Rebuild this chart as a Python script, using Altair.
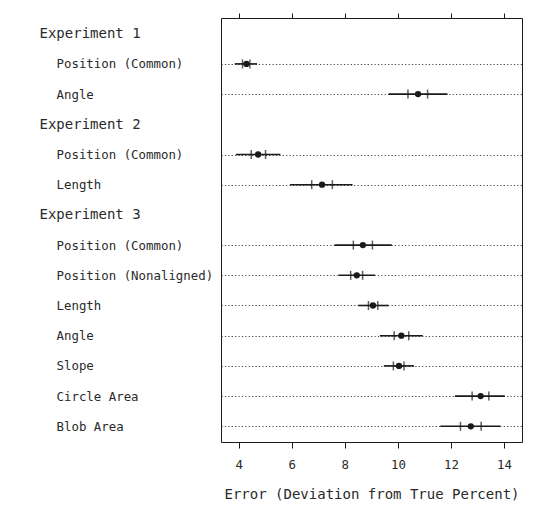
import altair as alt
import pandas as pd

row_labels = ["Experiment 1", "Position (Common)", "Angle",
              "Experiment 2", "Position (Common)", "Length",
              "Experiment 3", "Position (Common)", "Position (Nonaligned)", "Length",
              "Angle", "Slope", "Circle Area", "Blob Area"]
is_header = [True, False, False, True, False, False, True,
             False, False, False, False, False, False, False]

mid = [4.29, 10.76, 4.73, 7.14, 8.68, 8.45, 9.06, 10.13, 10.04, 13.12, 12.75]
lo = [3.85, 9.65, 3.89, 5.93, 7.61, 7.76, 8.51, 9.32, 9.47, 12.15, 11.60]
hi = [4.69, 11.87, 5.57, 8.29, 9.77, 9.14, 9.65, 10.94, 10.61, 14.03, 13.87]
q_lo = [4.14, 10.38, 4.47, 6.75, 8.32, 8.22, 8.89, 9.86, 9.83, 12.80, 12.36]
q_hi = [4.42, 11.12, 5.01, 7.53, 9.04, 8.67, 9.24, 10.41, 10.23, 13.43, 13.14]

x_ticks = [4, 6, 8, 10, 12, 14]

keys = [f"{i:02d}|{lab}" for i, lab in enumerate(row_labels)]
item_keys = [k for k, h in zip(keys, is_header) if not h]
header_keys = [k for k, h in zip(keys, is_header) if h]
df = pd.DataFrame({"key": item_keys, "mid": mid, "lo": lo, "hi": hi,
                   "q_lo": q_lo, "q_hi": q_hi})

FONT = "DejaVu Sans Mono"
INK = "#1a1a1a"
TEXT = "#2a2a2a"

x_scale = alt.Scale(domain=[3.33, 14.68], nice=False, zero=False)
y_scale = alt.Scale(domain=keys, type="point", padding=0.52)

header_test = " || ".join(f"datum.value == '{k}'" for k in header_keys)

y_axis = alt.Axis(
    title=None,
    labelExpr="split(datum.label, '|')[1]",
    labelAlign="left",
    labelBaseline="middle",
    labelPadding={"condition": {"test": header_test, "value": 182}, "value": 165},
    labelFontSize={"condition": {"test": header_test, "value": 14}, "value": 12.4},
    labelFont=FONT,
    labelColor=TEXT,
    labelLimit=300,
    ticks=False,
    domain=False,
    grid=True,
    gridDash=[1.2, 2.2],
    gridColor="#444444",
    gridWidth=1,
    gridOpacity={"condition": {"test": header_test, "value": 0}, "value": 1},
)

bottom_axis = alt.Axis(
    values=x_ticks,
    title="Error (Deviation from True Percent)",
    domain=False,
    grid=False,
    tickSize=6,
    tickColor=INK,
    labelFont=FONT,
    labelFontSize=12.4,
    labelColor=TEXT,
    labelPadding=10,
    titleFont=FONT,
    titleFontSize=14,
    titleFontWeight="normal",
    titleColor=TEXT,
    titlePadding=17,
)

top_axis = alt.Axis(
    orient="top",
    values=x_ticks,
    title=None,
    labels=False,
    domain=False,
    grid=False,
    tickSize=5,
    tickColor=INK,
)

base = alt.Chart(df)

rule = base.mark_rule(strokeWidth=1.6, color=INK).encode(
    x=alt.X("lo:Q", scale=x_scale, axis=bottom_axis),
    x2="hi:Q",
    y=alt.Y("key:N", scale=y_scale, axis=y_axis),
)

tick_lo = base.mark_tick(thickness=1.5, size=9, color=INK).encode(
    x=alt.X("q_lo:Q", scale=x_scale, axis=None),
    y=alt.Y("key:N", scale=y_scale, axis=y_axis),
)

tick_hi = base.mark_tick(thickness=1.5, size=9, color=INK).encode(
    x=alt.X("q_hi:Q", scale=x_scale, axis=None),
    y=alt.Y("key:N", scale=y_scale, axis=y_axis),
)

points = base.mark_point(filled=True, size=40, color=INK, opacity=1).encode(
    x=alt.X("mid:Q", scale=x_scale, axis=top_axis),
    y=alt.Y("key:N", scale=y_scale, axis=y_axis),
)

chart = alt.layer(rule, tick_lo, tick_hi, points).resolve_axis(
    x="independent"
).properties(
    width=301,
    height=424,
    padding={"left": 31, "top": 4, "right": 5, "bottom": 5},
    background="white",
).configure_view(
    stroke=INK,
    strokeWidth=1,
)

chart.save("out.html", embed_options={"renderer": "svg", "actions": False})
